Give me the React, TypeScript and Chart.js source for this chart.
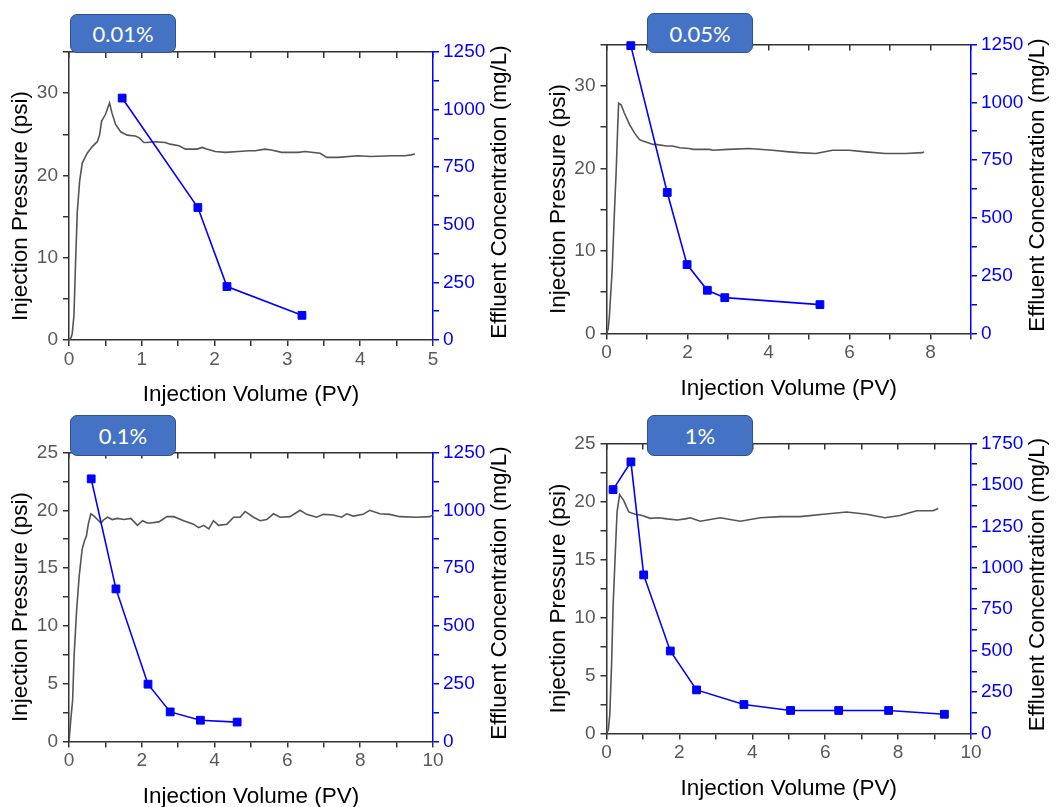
import { useEffect, useRef } from 'react';
import { Chart, registerables } from 'chart.js';

Chart.register(...registerables);

const FONT = '"Liberation Sans", Arial, sans-serif';
const TAG_FONT = 'Lato, "Open Sans", sans-serif';

const X_TITLE = 'Injection Volume (PV)';
const LEFT_TITLE = 'Injection Pressure (psi)';
const RIGHT_TITLE = 'Effluent Concentration (mg/L)';

const PRESSURE_COLOR = '#555555';
const EFFLUENT_COLOR = '#0000FF';
const AXIS_COLOR = '#333333';
const TICK_TEXT = '#595959';

// ---- 0.01% ----
const volume001 = [0, 0.03, 0.045, 0.068, 0.092, 0.114, 0.146, 0.182, 0.25, 0.32, 0.388, 0.42, 0.448, 0.5, 0.557, 0.59, 0.64, 0.71, 0.8, 0.91, 0.96, 1.03, 1.07, 1.19, 1.32, 1.39, 1.51, 1.6, 1.76, 1.83, 1.89, 2.01, 2.15, 2.33, 2.47, 2.56, 2.69, 2.78, 2.92, 3.15, 3.24, 3.45, 3.54, 3.7, 3.97, 4.15, 4.43, 4.61, 4.7, 4.75];
const pressure001 = [0, 0.3, 0.8, 3.0, 9.9, 15.6, 19.3, 21.5, 22.7, 23.5, 24.1, 24.9, 26.6, 27.4, 28.8, 27.6, 26.2, 25.3, 24.9, 24.8, 24.6, 24.0, 24.0, 24.1, 24.0, 23.8, 23.6, 23.2, 23.2, 23.4, 23.2, 22.9, 22.8, 22.9, 23.0, 23.0, 23.2, 23.1, 22.8, 22.8, 22.9, 22.7, 22.2, 22.2, 22.4, 22.3, 22.4, 22.4, 22.5, 22.6];
const sampleVolume001 = [0.73, 1.77, 2.17, 3.2];
const effluent001 = [1050, 575, 232, 107];

// ---- 0.05% ----
const volume005 = [0, 0.04, 0.07, 0.14, 0.195, 0.24, 0.28, 0.3, 0.36, 0.44, 0.57, 0.69, 0.81, 0.9, 1.15, 1.22, 1.48, 1.63, 1.81, 2.04, 2.14, 2.55, 2.62, 3.0, 3.52, 4.1, 4.51, 4.76, 5.17, 5.58, 5.99, 6.4, 6.89, 7.38, 7.8, 7.84];
const pressure005 = [0, 0.5, 2.0, 7.7, 14.6, 19.8, 25.5, 27.9, 27.7, 26.7, 25.3, 24.3, 23.5, 23.3, 22.9, 22.9, 22.7, 22.7, 22.5, 22.4, 22.3, 22.3, 22.2, 22.3, 22.4, 22.2, 22.0, 21.9, 21.8, 22.2, 22.2, 22.0, 21.8, 21.8, 21.9, 22.0];
const sampleVolume005 = [0.6, 1.5, 1.99, 2.49, 2.92, 5.27];
const effluent005 = [1245, 610, 298, 187, 155, 125];

// ---- 0.1% ----
const volume01 = [0, 0.05, 0.1, 0.14, 0.21, 0.28, 0.36, 0.42, 0.48, 0.53, 0.6, 0.69, 0.78, 0.88, 0.96, 1.06, 1.19, 1.33, 1.51, 1.7, 1.88, 2.02, 2.15, 2.24, 2.47, 2.69, 2.88, 3.15, 3.42, 3.56, 3.7, 3.84, 3.97, 4.11, 4.34, 4.52, 4.7, 4.84, 5.07, 5.25, 5.43, 5.62, 5.8, 6.07, 6.35, 6.53, 6.8, 6.99, 7.26, 7.49, 7.63, 7.81, 8.08, 8.26, 8.54, 8.81, 9.09, 9.54, 9.91, 10];
const pressure01 = [0, 1.9, 3.6, 7.4, 11.4, 14.3, 16.6, 17.3, 17.8, 18.8, 19.7, 19.5, 19.2, 18.9, 19.2, 19.4, 19.2, 19.3, 19.2, 19.3, 18.7, 19.1, 18.9, 18.9, 19.0, 19.45, 19.45, 19.1, 18.8, 18.5, 18.7, 18.4, 19.1, 18.7, 18.8, 19.4, 19.4, 19.9, 19.4, 19.1, 19.2, 19.7, 19.4, 19.45, 20.0, 19.65, 19.4, 19.65, 19.6, 19.4, 19.7, 19.5, 19.65, 20.0, 19.7, 19.65, 19.45, 19.4, 19.45, 19.6];
const sampleVolume01 = [0.61, 1.29, 2.17, 2.78, 3.61, 4.62];
const effluent01 = [1136, 660, 248, 128, 92, 84];

// ---- 1% ----
const volume1 = [0, 0.05, 0.09, 0.14, 0.18, 0.25, 0.29, 0.36, 0.47, 0.61, 0.79, 0.98, 1.2, 1.43, 1.66, 1.94, 2.16, 2.3, 2.57, 3.12, 3.67, 4.22, 4.76, 5.31, 5.95, 6.59, 7.14, 7.64, 8.05, 8.51, 8.96, 9.1];
const pressure1 = [0, 0.3, 1.6, 6.0, 10.9, 16.2, 19.1, 20.6, 20.1, 19.1, 18.9, 18.8, 18.55, 18.6, 18.5, 18.4, 18.5, 18.6, 18.3, 18.6, 18.3, 18.6, 18.7, 18.7, 18.9, 19.1, 18.9, 18.6, 18.8, 19.2, 19.2, 19.4];
const sampleVolume1 = [0.18, 0.67, 1.02, 1.75, 2.47, 3.77, 5.05, 6.37, 7.74, 9.27];
const effluent1 = [1472, 1639, 957, 498, 263, 175, 139, 139, 139, 116];

const panels = [
  {
    tag: '0.01%', volume: volume001, pressure: pressure001, sampleVolume: sampleVolume001, effluent: effluent001,
    xMax: 5, xStep: 0.5, xLabelEvery: 1, pMax: 35, pStep: 5, pLabelEvery: 10, cMax: 1250,
    area: { left: 69, right: 433, top: 52, bottom: 340 },
    tagBox: { left: 70, top: 14, width: 106, height: 39 },
  },
  {
    tag: '0.05%', volume: volume005, pressure: pressure005, sampleVolume: sampleVolume005, effluent: effluent005,
    xMax: 9, xStep: 1, xLabelEvery: 2, pMax: 35, pStep: 5, pLabelEvery: 10, cMax: 1250,
    area: { left: 606.5, right: 971, top: 44.5, bottom: 333.5 },
    tagBox: { left: 647, top: 13, width: 106, height: 40 },
  },
  {
    tag: '0.1%', volume: volume01, pressure: pressure01, sampleVolume: sampleVolume01, effluent: effluent01,
    xMax: 10, xStep: 1, xLabelEvery: 2, pMax: 25, pStep: 2.5, pLabelEvery: 5, cMax: 1250,
    area: { left: 69, right: 433, top: 452.5, bottom: 741.5 },
    tagBox: { left: 70, top: 415, width: 106, height: 41 },
  },
  {
    tag: '1%', volume: volume1, pressure: pressure1, sampleVolume: sampleVolume1, effluent: effluent1,
    xMax: 10, xStep: 1, xLabelEvery: 2, pMax: 25, pStep: 2.5, pLabelEvery: 5, cMax: 1750,
    area: { left: 606.5, right: 971, top: 443.5, bottom: 733.5 },
    tagBox: { left: 647, top: 415, width: 106, height: 41 },
  },
];

const W = 1057;
const H = 807;
const LEFT_W = 50;
const RIGHT_W = 70;
const BOTTOM_H = 40;

// Axis titles: right title reads bottom-to-top like the left one
const axisTitles = {
  id: 'axisTitles',
  afterDraw(chart: any) {
    const { ctx, chartArea: a } = chart;
    const midX = (a.left + a.right) / 2;
    const midY = (a.top + a.bottom) / 2;
    ctx.save();
    ctx.font = `22.5px ${FONT}`;
    ctx.fillStyle = '#000000';
    ctx.textAlign = 'center';
    ctx.textBaseline = 'middle';
    ctx.fillText(X_TITLE, midX, a.bottom + 55);
    ctx.save();
    ctx.translate(a.left - 48, midY + 10);
    ctx.rotate(-Math.PI / 2);
    ctx.fillText(LEFT_TITLE, 0, 0);
    ctx.restore();
    ctx.save();
    ctx.translate(a.right + 67, midY - 4);
    ctx.rotate(-Math.PI / 2);
    ctx.fillText(RIGHT_TITLE, 0, 0);
    ctx.restore();
    ctx.restore();
  },
};

const every = (n: number) => (v: any) => (Math.abs(v / n - Math.round(v / n)) < 1e-9 ? String(v) : '');

function buildConfig(p: any): any {
  const tickFont = { family: FONT, size: 19 };
  const axisGrid = { drawOnChartArea: false, drawTicks: true, tickLength: 6, color: AXIS_COLOR, lineWidth: 1.5 };
  return {
    type: 'scatter',
    data: {
      datasets: [
        {
          label: 'Effluent',
          data: p.sampleVolume.map((x: number, i: number) => ({ x, y: p.effluent[i] })),
          yAxisID: 'yC',
          showLine: true,
          borderColor: EFFLUENT_COLOR,
          backgroundColor: EFFLUENT_COLOR,
          borderWidth: 1.6,
          pointStyle: 'rect',
          pointRadius: 5.5,
          pointBorderWidth: 1,
          clip: false,
          order: 0,
        },
        {
          label: 'Pressure',
          data: p.volume.map((x: number, i: number) => ({ x, y: p.pressure[i] })),
          yAxisID: 'yP',
          showLine: true,
          borderColor: PRESSURE_COLOR,
          borderWidth: 1.6,
          pointRadius: 0,
          tension: 0,
          order: 1,
        },
      ],
    },
    options: {
      responsive: false,
      animation: false,
      devicePixelRatio: 1,
      events: [],
      layout: {
        padding: {
          left: p.area.left - LEFT_W,
          right: W - p.area.right - RIGHT_W,
          top: p.area.top,
          bottom: H - p.area.bottom - BOTTOM_H,
        },
      },
      plugins: { legend: { display: false }, tooltip: { enabled: false }, title: { display: false } },
      scales: {
        x: {
          type: 'linear',
          position: 'bottom',
          min: 0,
          max: p.xMax,
          afterFit: (s: any) => { s.height = BOTTOM_H; },
          border: { color: AXIS_COLOR, width: 1.5 },
          grid: axisGrid,
          ticks: {
            stepSize: p.xStep,
            autoSkip: false,
            maxRotation: 0,
            padding: 2,
            color: TICK_TEXT,
            font: tickFont,
            callback: every(p.xLabelEvery),
          },
        },
        xTop: {
          type: 'linear',
          position: 'top',
          min: 0,
          max: p.xMax,
          afterFit: (s: any) => { s.height = 0; },
          border: { color: AXIS_COLOR, width: 1.5 },
          grid: { ...axisGrid, tickLength: -6 },
          ticks: { stepSize: p.xStep, autoSkip: false, display: false },
        },
        yP: {
          type: 'linear',
          position: 'left',
          min: 0,
          max: p.pMax,
          afterFit: (s: any) => { s.width = LEFT_W; },
          border: { color: AXIS_COLOR, width: 1.5 },
          grid: axisGrid,
          ticks: {
            stepSize: p.pStep,
            autoSkip: false,
            padding: 5,
            color: TICK_TEXT,
            font: tickFont,
            callback: every(p.pLabelEvery),
          },
        },
        yC: {
          type: 'linear',
          position: 'right',
          min: 0,
          max: p.cMax,
          afterFit: (s: any) => { s.width = RIGHT_W; },
          border: { color: EFFLUENT_COLOR, width: 1.5 },
          grid: { ...axisGrid, color: EFFLUENT_COLOR },
          ticks: {
            stepSize: 125,
            autoSkip: false,
            padding: 4,
            color: EFFLUENT_COLOR,
            font: tickFont,
            callback: every(250),
          },
        },
      },
    },
    plugins: [axisTitles],
  };
}

function Panel({ spec }: { spec: any }) {
  const ref = useRef<HTMLCanvasElement>(null);
  useEffect(() => {
    if (!ref.current) return;
    const chart = new Chart(ref.current, buildConfig(spec));
    return () => chart.destroy();
  }, [spec]);
  return (
    <canvas
      ref={ref}
      width={W}
      height={H}
      style={{ position: 'absolute', left: 0, top: 0, width: W, height: H }}
    />
  );
}

function Tag({ text, box }: { text: string; box: any }) {
  return (
    <div
      style={{
        position: 'absolute',
        left: box.left,
        top: box.top,
        width: box.width,
        height: box.height,
        boxSizing: 'border-box',
        background: '#4472C4',
        border: '1.5px solid #2F528F',
        borderRadius: 7,
        color: '#FFFFFF',
        fontFamily: TAG_FONT,
        fontSize: 22,
        display: 'flex',
        alignItems: 'center',
        justifyContent: 'center',
        zIndex: 2,
      }}
    >
      {text}
    </div>
  );
}

export default function App() {
  return (
    <div
      style={{
        position: 'fixed',
        left: 0,
        top: 0,
        width: W,
        height: H,
        background: '#FFFFFF',
        overflow: 'hidden',
      }}
    >
      {panels.map((p) => (
        <Panel key={p.tag} spec={p} />
      ))}
      {panels.map((p) => (
        <Tag key={`tag-${p.tag}`} text={p.tag} box={p.tagBox} />
      ))}
    </div>
  );
}
